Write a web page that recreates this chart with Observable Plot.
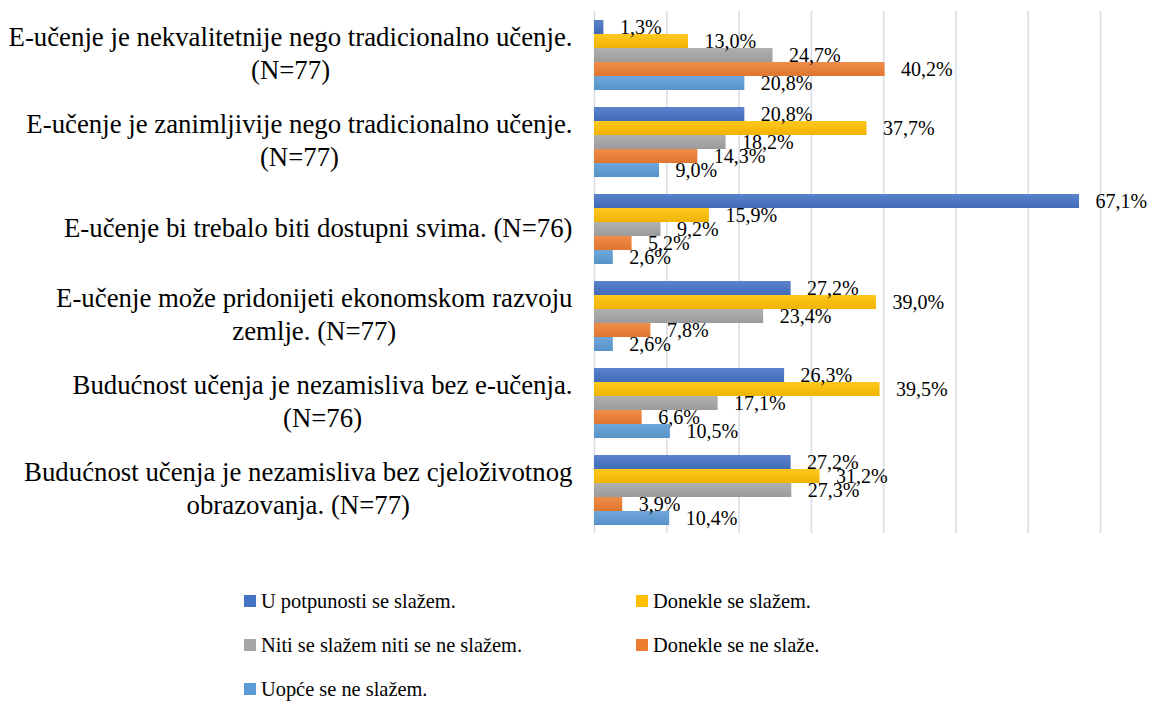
<!DOCTYPE html>
<html>
<head>
<meta charset="utf-8">
<script src="https://cdn.jsdelivr.net/npm/d3@7"></script>
<script src="https://cdn.jsdelivr.net/npm/@observablehq/plot@0.6"></script>
</head>
<body style="margin:0;padding:0;background:#fff;width:1166px;height:702px;overflow:hidden;font-family:'Liberation Serif','Times New Roman',serif">
<div id="chart"></div>
<div id="legend" style="position:relative;height:142px"></div>
<script>
// ---- data ----
const categories = [
  "E-učenje je nekvalitetnije nego tradicionalno učenje.\n(N=77)",
  "E-učenje je zanimljivije nego tradicionalno učenje.\n(N=77)",
  "E-učenje bi trebalo biti dostupni svima. (N=76)",
  "E-učenje može pridonijeti ekonomskom razvoju\nzemlje. (N=77)",
  "Budućnost učenja je nezamisliva bez e-učenja.\n(N=76)",
  "Budućnost učenja je nezamisliva bez cjeloživotnog\nobrazovanja. (N=77)"
];
const seriesNames = [
  "U potpunosti se slažem.",
  "Donekle se slažem.",
  "Niti se slažem niti se ne slažem.",
  "Donekle se ne slaže.",
  "Uopće se ne slažem."
];
const uPotpunosti = [1.3, 20.8, 67.1, 27.2, 26.3, 27.2];
const donekleSe   = [13.0, 37.7, 15.9, 39.0, 39.5, 31.2];
const nitiNiti    = [24.7, 18.2, 9.2, 23.4, 17.1, 27.3];
const donekleNe   = [40.2, 14.3, 5.2, 7.8, 6.6, 3.9];
const uopce       = [20.8, 9.0, 2.6, 2.6, 10.5, 10.4];
const gridTicks = [0, 10, 20, 30, 40, 50, 60, 70];
const seriesColors = ["#4472C4", "#FFC000", "#A5A5A5", "#ED7D31", "#5B9BD5"];

const seriesValues = [uPotpunosti, donekleSe, nitiNiti, donekleNe, uopce];
const rows = [];
categories.forEach((c, i) => {
  seriesNames.forEach((s, j) => rows.push({category: c, series: s, value: seriesValues[j][i]}));
});

const fontFamily = "'Liberation Serif', 'Times New Roman', serif";
const catFont = 26.8;
const ctx = document.createElement("canvas").getContext("2d");
ctx.font = catFont + "px " + fontFamily;
const maxWidth = t => Math.max(...t.split("\n").map(l => ctx.measureText(l).width));

const gradIds = seriesColors.map((c, i) => "grad" + i);

function defsMark() {
  const svgNS = "http://www.w3.org/2000/svg";
  const defs = document.createElementNS(svgNS, "defs");
  seriesColors.forEach((c, i) => {
    const g = document.createElementNS(svgNS, "linearGradient");
    g.setAttribute("id", gradIds[i]);
    g.setAttribute("x1", "0"); g.setAttribute("y1", "0");
    g.setAttribute("x2", "0"); g.setAttribute("y2", "1");
    const top = d3.interpolateRgb(c, "#ffffff")(0.12);
    const bot = d3.interpolateRgb(c, "#000000")(0.06);
    [[0, top], [1, bot]].forEach(([o, col]) => {
      const s = document.createElementNS(svgNS, "stop");
      s.setAttribute("offset", o);
      s.setAttribute("stop-color", col);
      g.appendChild(s);
    });
    defs.appendChild(g);
  });
  return defs;
}

const fmt = v => v.toFixed(1).replace(".", ",") + "%";

const labelMarks = categories.map(c => Plot.text([c], {
  fy: d => d,
  text: d => d,
  frameAnchor: "left",
  textAnchor: "middle",
  lineAnchor: "middle",
  lineHeight: 1.24,
  fontSize: catFont,
  fontFamily,
  fill: "#000",
  dy: -3,
  dx: -(22 + maxWidth(c) / 2)
}));

const chart = Plot.plot({
  width: 1166,
  height: 560,
  marginLeft: 594,
  marginRight: 66,
  marginTop: 8,
  marginBottom: 25,
  style: {fontFamily: fontFamily, background: "#fff"},
  x: {domain: [0, 70], axis: null},
  fy: {domain: categories, padding: 0, axis: null},
  y: {domain: seriesNames, paddingInner: 0, paddingOuter: 0.47, axis: null},
  color: {domain: seriesNames, range: gradIds.map(id => "url(#" + id + ")")},
  marks: [
    defsMark,
    Plot.ruleX(gridTicks, {x: d => d, stroke: "#d9dde5", strokeWidth: 1.6}),
    Plot.barX(rows, {x: "value", y: "series", fy: "category", fill: "series"}),
    Plot.text(rows, {x: "value", y: "series", fy: "category", text: d => fmt(d.value),
      textAnchor: "start", dx: 16, fontSize: 20, fontFamily, fill: "#000"}),
    ...labelMarks
  ]
});
chart.style.setProperty("font-family", fontFamily, "important");
chart.querySelectorAll("text, tspan, g").forEach(el => el.style.setProperty("font-family", fontFamily, "important"));
document.getElementById("chart").appendChild(chart);

// legend
const legend = document.getElementById("legend");
const positions = [[244, 41], [636, 41], [244, 85], [636, 85], [244, 129]];
seriesNames.forEach((s, i) => {
  const it = document.createElement("div");
  it.style.cssText = "position:absolute;display:flex;align-items:center;font-size:20.4px;color:#000;white-space:nowrap;height:28px;";
  it.style.setProperty("font-family", fontFamily, "important");
  it.style.left = positions[i][0] + "px";
  it.style.top = (positions[i][1] - 14) + "px";
  const sw = document.createElement("span");
  sw.style.cssText = "width:12px;height:12px;margin-right:5px;flex:none;background:" + seriesColors[i];
  const tx = document.createElement("span");
  tx.textContent = s;
  tx.style.setProperty("font-family", fontFamily, "important");
  it.appendChild(sw); it.appendChild(tx);
  legend.appendChild(it);
});
</script>
</body>
</html>
